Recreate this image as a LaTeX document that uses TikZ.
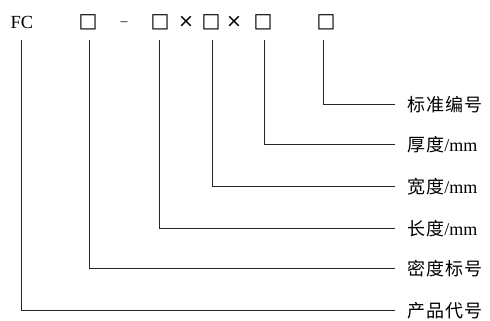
\documentclass[tikz,border=0pt]{standalone}
\usepackage{fontspec}
\setmainfont{Liberation Serif}
\newfontfamily\cjk[LetterSpace=6]{Noto Sans CJK SC}
\newfontfamily\sym{DejaVu Sans}
\begin{document}
\begin{tikzpicture}[x=1pt,y=-1pt,
  ln/.style={line width=0.9pt, draw=black!85},
  top/.style={inner sep=0pt, font=\fontsize{18.5}{20}\selectfont},
  bx/.style={inner sep=0pt, font=\sym\fontsize{20}{22}\selectfont},
  xs/.style={inner sep=0pt, font=\sym\fontsize{19}{22}\selectfont},
  lab/.style={anchor=west, inner xsep=12pt, inner ysep=0pt, yshift=-1pt, font=\fontsize{18}{20}\selectfont}]
\useasboundingbox (0,0) rectangle (490,321);
% top row
\node[top] (fc) at (22,22) {FC};
\node[bx] (b1) at (88,22) {□};
\node[inner sep=0pt, font=\fontsize{14}{16}\selectfont] (d1) at (124,24) {–};
\node[bx] (b2) at (160,22) {□};
\node[xs] (x1) at (186,22) {×};
\node[bx] (b3) at (211,22) {□};
\node[xs] (x2) at (234,22) {×};
\node[bx] (b4) at (263,22) {□};
\node[bx] (b5) at (326,22) {□};
% anchors of the leaders
\coordinate (t0) at (21,40);
\coordinate (t1) at (89,40);
\coordinate (t2) at (159,40);
\coordinate (t3) at (212,40);
\coordinate (t4) at (264,40);
\coordinate (t5) at (323,40);
% labels
\node[lab] (l5) at (395,104) {{\cjk 标准编号}};
\node[lab] (l4) at (395,144) {{\cjk 厚度}/mm};
\node[lab] (l3) at (395,186) {{\cjk 宽度}/mm};
\node[lab] (l2) at (395,228) {{\cjk 长度}/mm};
\node[lab] (l1) at (395,268) {{\cjk 密度标号}};
\node[lab] (l0) at (395,310) {{\cjk 产品代号}};
% leaders
\draw[ln] (t5) |- ([yshift=1pt]l5.west);
\draw[ln] (t4) |- ([yshift=1pt]l4.west);
\draw[ln] (t3) |- ([yshift=1pt]l3.west);
\draw[ln] (t2) |- ([yshift=1pt]l2.west);
\draw[ln] (t1) |- ([yshift=1pt]l1.west);
\draw[ln] (t0) |- ([yshift=1pt]l0.west);
\end{tikzpicture}
\end{document}
